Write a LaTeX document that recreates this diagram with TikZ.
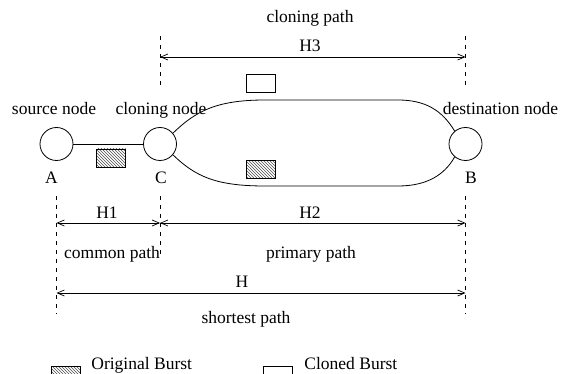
\documentclass[tikz,border=0pt]{standalone}
\usepackage{fontspec}
\setmainfont{Liberation Serif}
\usetikzlibrary{arrows.meta,patterns}
\begin{document}
\begin{tikzpicture}[x=1pt,y=-1pt,line width=0.8pt,
  every node/.style={font=\fontsize{17.5}{20}\selectfont},
  nodecirc/.style={circle,draw,minimum size=33pt,inner sep=0pt},
  lbl/.style={anchor=base,inner sep=0pt},
  burst/.style={draw,minimum width=29pt,minimum height=18pt,inner sep=0pt},
  orig/.style={burst,pattern=north west lines,pattern color=black!70},
  dim/.style={{Straight Barb[length=7pt,width=6pt]}-{Straight Barb[length=7pt,width=6pt]},line width=0.7pt},
  guide/.style={dash pattern=on 4pt off 5pt,line width=0.8pt}]
\useasboundingbox (0,0) rectangle (565,374);
% nodes
\node[nodecirc] (A) at (56.5,144) {};
\node[nodecirc] (C) at (160,144) {};
\node[nodecirc] (B) at (465.5,144) {};
\node[lbl] (srcl) at (54,115) {source node};
\node[lbl] (clnl) at (161,115) {cloning node};
\node[lbl] (dstl) at (500.5,115) {destination node};
\node[lbl] (Al) at (51.5,184) {A};
\node[lbl] (Cl) at (161,184) {C};
\node[lbl] (Bl) at (471,184) {B};
% links
\draw (A) -- (C);
\draw (C.40) .. controls (195,112) and (215,100) .. (265,100) -- (398,100) .. controls (425,100) and (442,110) .. (B.130);
\draw (C.-40) .. controls (195,176) and (215,186) .. (265,186) -- (398,186) .. controls (428,186) and (445,174) .. (B.-130);
% bursts
\node[orig] (b1) at (111,158) {};
\node[burst] (b2) at (260.5,83) {};
\node[orig] (b3) at (260.5,169.5) {};
% top guides
\coordinate (t1a) at (160,36); \coordinate (t1b) at (160,85);
\coordinate (t2a) at (465.5,36); \coordinate (t2b) at (465.5,85);
\draw[guide] (t1a) -- (t1b);
\draw[guide] (t2a) -- (t2b);
\coordinate (h3a) at (160,57); \coordinate (h3b) at (465.5,57);
\draw[dim] (h3a) -- (h3b);
\node[lbl] (cpl) at (310,23) {cloning path};
\node[lbl] (h3l) at (310,51.7) {H3};
% bottom guides
\coordinate (gA1) at (56.5,196); \coordinate (gA2) at (56.5,314);
\coordinate (gC1) at (160,196); \coordinate (gC2) at (160,258);
\coordinate (gB1) at (465.5,196); \coordinate (gB2) at (465.5,314);
\draw[guide] (gA1) -- (gA2);
\draw[guide] (gC1) -- (gC2);
\draw[guide] (gB1) -- (gB2);
\coordinate (d1a) at (56.5,223); \coordinate (d1b) at (160,223); \coordinate (d1c) at (465.5,223);
\draw[dim] (d1a) -- (d1b);
\draw[dim] (d1b) -- (d1c);
\coordinate (d2a) at (56.5,293); \coordinate (d2b) at (465.5,293);
\draw[dim] (d2a) -- (d2b);
\node[lbl] (h1l) at (107,218.3) {H1};
\node[lbl] (h2l) at (310,218.3) {H2};
\node[lbl] (compl) at (112,258.3) {common path};
\node[lbl] (priml) at (311,258.3) {primary path};
\node[lbl] (hl) at (242,287.5) {H};
\node[lbl] (shl) at (246,323.3) {shortest path};
% legend
\node[orig,anchor=north west] (lg1) at (50.7,366) {};
\node[lbl,anchor=base west] (lg1t) at (91,369) {Original Burst};
\node[burst,anchor=north west] (lg2) at (263.3,366) {};
\node[lbl,anchor=base west] (lg2t) at (304,369) {Cloned Burst};
\end{tikzpicture}
\end{document}
